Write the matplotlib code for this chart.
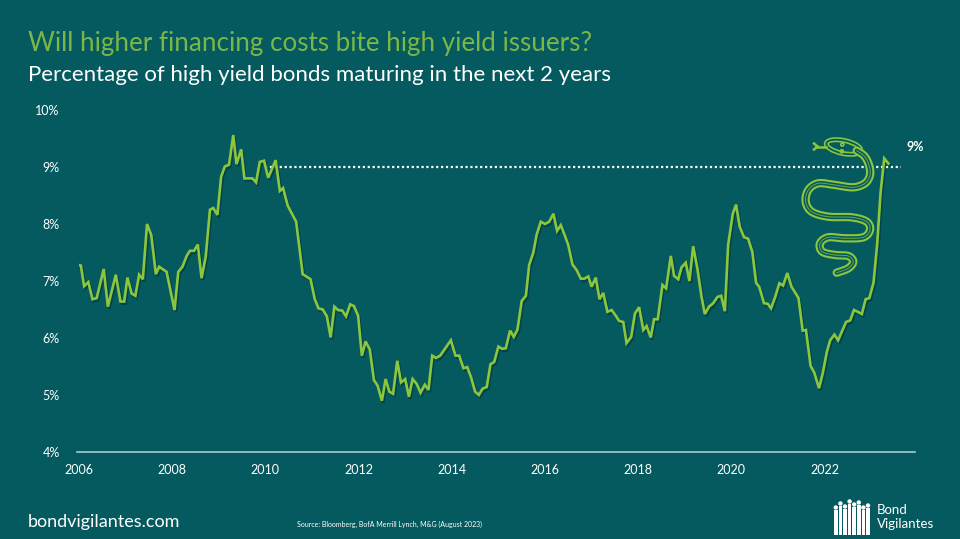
import numpy as np
import matplotlib
matplotlib.use("Agg")
import matplotlib.pyplot as plt
import matplotlib.patheffects as pe
from matplotlib.patches import Ellipse, Circle, Rectangle

# couleurs
bg = '#045a5e'
vert = '#8cc63f'
vert_titre = '#7ab648'
blanc = 'white'

plt.rcParams['font.family'] = ['Lato', 'DejaVu Sans']

# donnees (annee decimale, % des obligations HY a echeance < 2 ans)
annees = [2006.00, 2006.04, 2006.11, 2006.20, 2006.29, 2006.38, 2006.53, 2006.62, 2006.79, 2006.89,
          2006.97, 2007.04, 2007.13, 2007.21, 2007.29, 2007.37, 2007.46, 2007.55, 2007.65, 2007.72,
          2007.88, 2008.05, 2008.13, 2008.22, 2008.31, 2008.38, 2008.47, 2008.55, 2008.63, 2008.72,
          2008.81, 2008.88, 2008.97, 2009.05, 2009.13, 2009.22, 2009.31, 2009.38, 2009.48, 2009.55,
          2009.72, 2009.80, 2009.88, 2009.97, 2010.06, 2010.22, 2010.31, 2010.38, 2010.48, 2010.66,
          2010.80, 2010.97, 2011.06, 2011.14, 2011.23, 2011.32, 2011.40, 2011.48, 2011.56, 2011.65,
          2011.73, 2011.82, 2011.90, 2011.99, 2012.07, 2012.15, 2012.24, 2012.33, 2012.41, 2012.50,
          2012.58, 2012.66, 2012.74, 2012.83, 2012.91, 2013.00, 2013.08, 2013.16, 2013.25, 2013.33,
          2013.42, 2013.50, 2013.58, 2013.66, 2013.75, 2013.98, 2014.08, 2014.16, 2014.25, 2014.33,
          2014.41, 2014.50, 2014.58, 2014.66, 2014.75, 2014.83, 2014.91, 2015.00, 2015.08, 2015.16,
          2015.25, 2015.33, 2015.41, 2015.50, 2015.59, 2015.66, 2015.75, 2015.82, 2015.91, 2016.00,
          2016.09, 2016.18, 2016.26, 2016.34, 2016.43, 2016.50, 2016.59, 2016.68, 2016.77, 2016.84,
          2016.93, 2017.00, 2017.09, 2017.17, 2017.25, 2017.34, 2017.43, 2017.52, 2017.59, 2017.68,
          2017.75, 2017.85, 2017.93, 2018.02, 2018.11, 2018.18, 2018.27, 2018.34, 2018.42, 2018.52,
          2018.60, 2018.70, 2018.77, 2018.86, 2018.93, 2019.02, 2019.10, 2019.18, 2019.27, 2019.36,
          2019.43, 2019.52, 2019.61, 2019.70, 2019.78, 2019.86, 2019.93, 2020.03, 2020.10, 2020.18,
          2020.27, 2020.36, 2020.45, 2020.53, 2020.60, 2020.70, 2020.78, 2020.85, 2020.94, 2021.03,
          2021.11, 2021.20, 2021.29, 2021.44, 2021.53, 2021.60, 2021.70, 2021.78, 2021.88, 2021.96,
          2022.05, 2022.12, 2022.21, 2022.29, 2022.38, 2022.46, 2022.55, 2022.63, 2022.71, 2022.80,
          2022.88, 2022.96, 2023.05, 2023.13, 2023.20, 2023.28, 2023.37]
pct = [7.28, 7.27, 6.91, 6.98, 6.68, 6.70, 7.21, 6.55, 7.11, 6.64,
       6.64, 7.06, 6.78, 6.74, 7.11, 7.03, 8.00, 7.81, 7.12, 7.25,
       7.16, 6.49, 7.16, 7.25, 7.44, 7.53, 7.53, 7.64, 7.05, 7.43,
       8.25, 8.28, 8.16, 8.83, 9.01, 9.04, 9.56, 9.05, 9.31, 8.80,
       8.80, 8.73, 9.09, 9.11, 8.81, 9.12, 8.58, 8.63, 8.32, 8.04,
       7.12, 7.03, 6.68, 6.52, 6.50, 6.38, 6.01, 6.55, 6.49, 6.48,
       6.38, 6.59, 6.56, 6.39, 5.69, 5.94, 5.80, 5.26, 5.16, 4.90,
       5.28, 5.06, 5.02, 5.60, 5.22, 5.28, 4.97, 5.28, 5.19, 5.04,
       5.18, 5.09, 5.69, 5.65, 5.69, 5.96, 5.69, 5.69, 5.47, 5.49,
       5.32, 5.06, 5.00, 5.11, 5.14, 5.54, 5.58, 5.85, 5.81, 5.82,
       6.13, 6.02, 6.15, 6.65, 6.74, 7.28, 7.50, 7.81, 8.04, 8.00,
       8.04, 8.18, 7.88, 7.98, 7.79, 7.63, 7.29, 7.19, 7.04, 7.04,
       7.08, 6.90, 7.06, 6.68, 6.79, 6.46, 6.49, 6.39, 6.30, 6.28,
       5.91, 6.02, 6.43, 6.54, 6.14, 6.21, 6.01, 6.33, 6.33, 6.93,
       6.87, 7.44, 7.09, 7.03, 7.24, 7.32, 7.00, 7.61, 7.22, 6.72,
       6.42, 6.55, 6.61, 6.72, 6.74, 6.47, 7.63, 8.18, 8.34, 7.95,
       7.77, 7.74, 7.51, 6.97, 6.89, 6.61, 6.60, 6.52, 6.72, 6.96,
       6.92, 7.14, 6.90, 6.70, 6.13, 6.14, 5.51, 5.39, 5.12, 5.38,
       5.76, 5.96, 6.06, 5.96, 6.13, 6.28, 6.31, 6.49, 6.46, 6.42,
       6.68, 6.70, 6.97, 7.66, 8.54, 9.15, 9.06]

niveau_actuel = 9.0
debut_pointille = 2010.0
fin_pointille = 2023.64

xticks = [2006, 2008, 2010, 2012, 2014, 2016, 2018, 2020, 2022]
yticks = [4, 5, 6, 7, 8, 9, 10]

fig = plt.figure(figsize=(9.6, 5.39), dpi=100, facecolor=bg)

ax = fig.add_axes([79/960, 1 - 452/539, (915 - 79)/960, (452 - 110)/539])
ax.set_facecolor(bg)
ax.set_xlim(2006, 2023.94)
ax.set_ylim(4, 10)

ax.plot(annees, pct, color=vert, lw=1.9, solid_joinstyle='miter', zorder=3,
        path_effects=[pe.SimpleLineShadow(offset=(1, -1.5), shadow_color='#02363a', alpha=0.6),
                      pe.Normal()])
ax.plot([debut_pointille, fin_pointille], [niveau_actuel, niveau_actuel], color=blanc,
        lw=1.6, ls=(0, (1, 1.2)), zorder=2)
ax.text(2023.75, 9.35, '9%', color=blanc, fontsize=9, fontweight='bold', ha='left', va='center')

for s in ['top', 'right', 'left']:
    ax.spines[s].set_visible(False)
ax.spines['bottom'].set_color('#a9cccd')
ax.spines['bottom'].set_linewidth(1.2)
ax.spines['bottom'].set_bounds(2005.96, 2023.94)
ax.spines['bottom'].set_position(('data', 4))
ax.set_xticks(xticks)
ax.set_xticklabels([str(t) for t in xticks])
ax.set_yticks(yticks)
ax.set_yticklabels([f'{t}%' for t in yticks])
ax.tick_params(axis='both', length=0, colors=blanc, labelsize=9)
ax.tick_params(axis='x', pad=9)
ax.tick_params(axis='y', pad=14)

# titres
fig.text(28/960, 1 - 43/539, 'Will higher financing costs bite high yield issuers?',
         color=vert_titre, fontsize=18.7, ha='left', va='center')
fig.text(28/960, 1 - 75/539, 'Percentage of high yield bonds maturing in the next 2 years',
         color=blanc, fontsize=16, ha='left', va='center')

# pied de page
fig.text(28/960, 1 - 522/539, 'bondvigilantes.com', color=blanc, fontsize=13, ha='left', va='center')
fig.text(297/960, 1 - 524/539, 'Source: Bloomberg, BofA Merrill Lynch, M&G (August 2023)',
         color=blanc, fontsize=5, ha='left', va='center')

# calque en pixels pour le serpent et le logo
ov = fig.add_axes([0, 0, 1, 1], zorder=5)
ov.set_xlim(0, 960)
ov.set_ylim(539, 0)
ov.axis('off')
ov.patch.set_alpha(0)

# ligne centrale du serpent (pixels)
sx = np.array([856.7, 864.3, 869, 870, 865, 853.3, 835, 818.3, 808.3, 805.7, 811.7, 828.3, 851.7,
               866.7, 870, 863.3, 845, 828.3, 820, 822.3, 835, 848.3, 853.3, 848.3, 836.7])
sy = np.array([150.7, 156, 165, 175, 183.3, 187.3, 185, 183.3, 190, 201.7, 211.7, 216.7, 217.3,
               221.7, 230, 237.3, 238.3, 237.3, 243.3, 251.7, 255, 256, 261.7, 268.3, 272.7])


def catmull(px, py, n=12):
    xs, ys = [], []
    P = np.column_stack([px, py])
    P = np.vstack([P[0], P, P[-1]])
    for i in range(1, len(P) - 2):
        p0, p1, p2, p3 = P[i - 1], P[i], P[i + 1], P[i + 2]
        for t in np.linspace(0, 1, n, endpoint=False):
            v = 0.5 * ((2 * p1) + (-p0 + p2) * t + (2 * p0 - 5 * p1 + 4 * p2 - p3) * t ** 2
                       + (-p0 + 3 * p1 - 3 * p2 + p3) * t ** 3)
            xs.append(v[0])
            ys.append(v[1])
    xs.append(px[-1])
    ys.append(py[-1])
    return np.array(xs), np.array(ys)


cx, cy = catmull(sx, sy)
ov.plot(cx, cy, color=vert, lw=6.0, solid_capstyle='round')
ov.plot(cx, cy, color=bg, lw=3.0, solid_capstyle='round')
ov.plot(cx, cy, color='#6fa83a', lw=0.7, solid_capstyle='round')

# tete
ov.add_patch(Ellipse((843.5, 147), 35, 13, angle=12, fc=bg, ec=vert, lw=3.6))
ov.add_patch(Ellipse((843.5, 147), 35, 13, angle=12, fc='none', ec=bg, lw=1.3))
ov.add_patch(Circle((842.3, 144.6), 1.5, fc='none', ec=vert, lw=1.2))
ov.add_patch(Circle((841.8, 151.3), 1.5, fc='none', ec=vert, lw=1.2))
ov.plot([826, 816], [146.5, 146.5], color=vert, lw=1.8)
ov.plot([817.5, 814], [146.5, 143.5], color=vert, lw=1.8)
ov.plot([817.5, 814], [146.5, 149.5], color=vert, lw=1.8)

# logo Bond Vigilantes
hauteurs = [30, 34, 31, 36, 33, 35, 30, 32]
for i, h in enumerate(hauteurs):
    x0 = 834 + i * 4.6
    ov.add_patch(Rectangle((x0, 535 - h + 5), 3.6, h - 5, fc=blanc, ec='none'))
    ov.add_patch(Circle((x0 + 1.8, 535 - h + 2.5), 2.2, fc=blanc, ec='none'))
ov.text(877, 510, 'Bond', color=blanc, fontsize=9.5, ha='left', va='center')
ov.text(877, 524, 'Vigilantes', color=blanc, fontsize=9.5, ha='left', va='center')

fig.savefig('out.png', dpi=100, facecolor=bg)
